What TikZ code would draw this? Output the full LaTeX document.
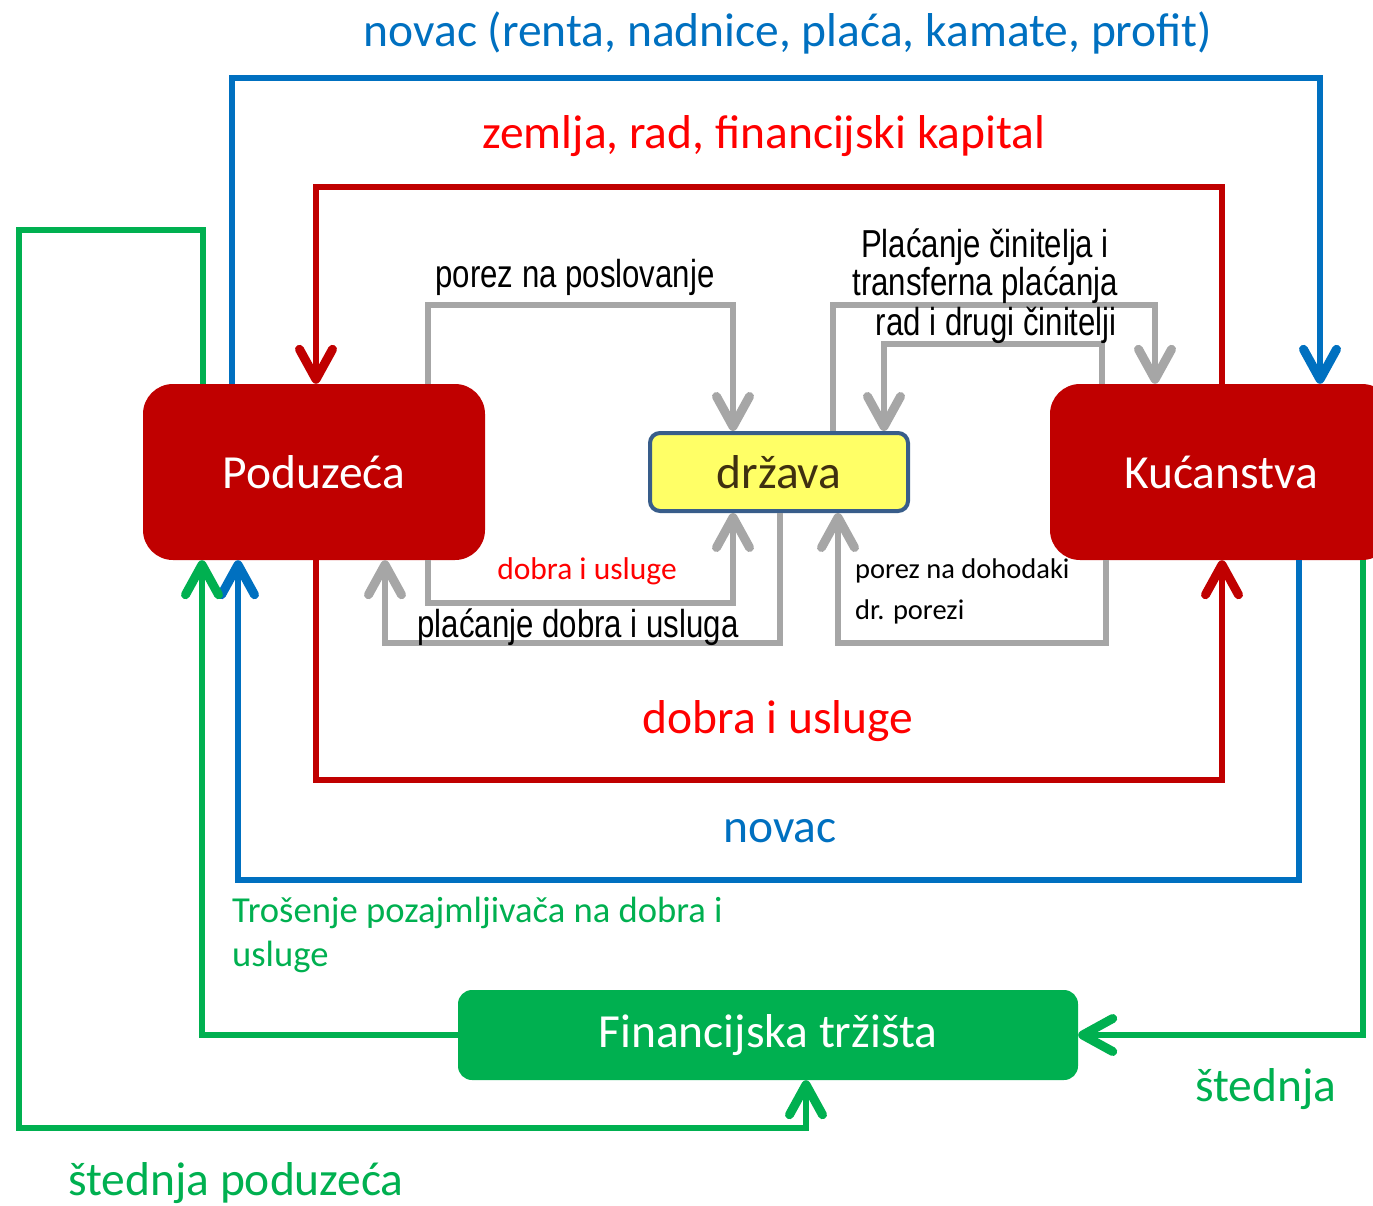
\documentclass[tikz,border=0pt]{standalone}
\usepackage{fontspec}
\setmainfont{Carlito}
\newfontfamily\arialfont[FakeStretch=0.8]{Liberation Sans}
\usetikzlibrary{arrows.meta,positioning}

\definecolor{boxred}{HTML}{C00000}
\definecolor{txtred}{HTML}{FF0000}
\definecolor{flowblue}{HTML}{0070C0}
\definecolor{flowgreen}{HTML}{00B050}
\definecolor{flowgray}{HTML}{A6A6A6}
\definecolor{statefill}{HTML}{FFFF66}
\definecolor{stateline}{HTML}{385D8A}
\definecolor{statetext}{HTML}{3F3010}

\newcommand{\bigfont}{\fontsize{47.5}{52}\selectfont}
\newcommand{\midfont}{\fontsize{36.6}{44}\selectfont}
\newcommand{\smallfont}{\fontsize{28.5}{41}\selectfont}
\newcommand{\redsmallfont}{\fontsize{31.5}{38}\selectfont}
\newcommand{\grayfont}{\arialfont\fontsize{39}{38}\selectfont}

\begin{document}
\begin{tikzpicture}[x=1pt,y=-1pt,
  flow/.style={line width=6pt,-{Straight Barb[length=30pt,width=33pt,line width=3pt 1,round]}},
  sector/.style={fill=boxred,rounded corners=30pt,text=white,font=\bigfont},
  market/.style={fill=flowgreen,rounded corners=14pt,text=white,font=\bigfont},
  state/.style={fill=statefill,draw=stateline,line width=4pt,rounded corners=10pt,text=statetext,font=\bigfont}]
\tikzstyle{every node}+=[inner sep=0pt]
\useasboundingbox (0,0) rectangle (1373,1205);
% sectors
\node [sector,minimum width=342pt,minimum height=176pt] (pod) at (314,472) {Poduzeća};
\node [sector,minimum width=342pt,minimum height=176pt] (kuc) at (1221,472) {Kućanstva};
\node [state,minimum width=258pt,minimum height=78pt] (drz) at (779,472) {država};
\node [market,minimum width=620pt,minimum height=90pt] (fin) at (768,1035) {Financijska tržišta};
% outer loops
\draw [flow,flowblue] (pod.north -| 232,0) -- (232,78) -- (1320,78) -- (kuc.north -| 1320,0);
\draw [flow,boxred] (kuc.north -| 1222,0) -- (1222,187) -- (316,187) -- (pod.north -| 316,0);
\draw [flow,boxred] (pod.south -| 316,0) -- (316,780) -- (1222,780) -- (kuc.south -| 1222,0);
\draw [flow,flowblue] (kuc.south -| 1299,0) -- (1299,880) -- (238,880) -- (pod.south -| 238,0);
% financial market
\draw [flow,flowgreen] (pod.north -| 203,0) -- (203,230) -- (19,230) -- (19,1128) -- (806,1128) -- (fin.south -| 806,0);
\draw [flow,flowgreen] (fin.west) -- (202,1035) -- (pod.south -| 202,0);
\draw [flow,flowgreen] (kuc.south -| 1363,0) -- (1363,1035) -- (fin.east);
% government
\draw [flow,flowgray] (pod.north -| 428,0) -- (428,305) -- (733,305) -- (drz.north -| 733,0);
\draw [flow,flowgray] (drz.north -| 833,0) -- (833,305) -- (1155,305) -- (kuc.north -| 1155,0);
\draw [flow,flowgray] (kuc.north -| 1102,0) -- (1102,344) -- (884,344) -- (drz.north -| 884,0);
\draw [flow,flowgray] (pod.south -| 428,0) -- (428,603) -- (733,603) -- (drz.south -| 733,0);
\draw [flow,flowgray] (drz.south -| 780,0) -- (780,643) -- (385,643) -- (pod.south -| 385,0);
\draw [flow,flowgray] (kuc.south -| 1106,0) -- (1106,643) -- (838,643) -- (drz.south -| 838,0);
% labels
\node [text=flowblue,font=\bigfont] (lblrent) at (788,33) {novac (renta, nadnice, plaća, kamate, profit)};
\node [text=txtred,font=\bigfont] (lblfactors) at (764,136) {zemlja, rad, financijski kapital};
\node [font=\grayfont] (lblbustax) at (575,277) {porez na poslovanje};
\node [font=\grayfont,align=center] (lblfactpay) at (985,266) {Plaćanje činitelja i\\transferna plaćanja};
\node [font=\grayfont,anchor=east] (lbllabour) at (1117,325) {rad i drugi činitelji};
\node [text=txtred,font=\redsmallfont] (lblgoodsgov) at (587,571) {dobra i usluge};
\node [font=\grayfont] (lblgoodspay) at (578,627) {plaćanje dobra i usluga};
\node [font=\smallfont,align=left,anchor=north west] (lblinctax) at (855,559) {porez na dohodaki\\dr. porezi};
\node [text=txtred,font=\bigfont] (lblgoods) at (778,721) {dobra i usluge};
\node [text=flowblue,font=\bigfont] (lblmoney) at (780,831) {novac};
\node [text=flowgreen,font=\midfont,align=left,anchor=north west] (lblborrow) at (232,897) {Trošenje pozajmljivača na dobra i\\usluge};
\node [text=flowgreen,font=\bigfont] (lblsave) at (1266,1089) {štednja};
\node [text=flowgreen,font=\bigfont] (lblsavefirm) at (236,1183) {štednja poduzeća};
\end{tikzpicture}
\end{document}
